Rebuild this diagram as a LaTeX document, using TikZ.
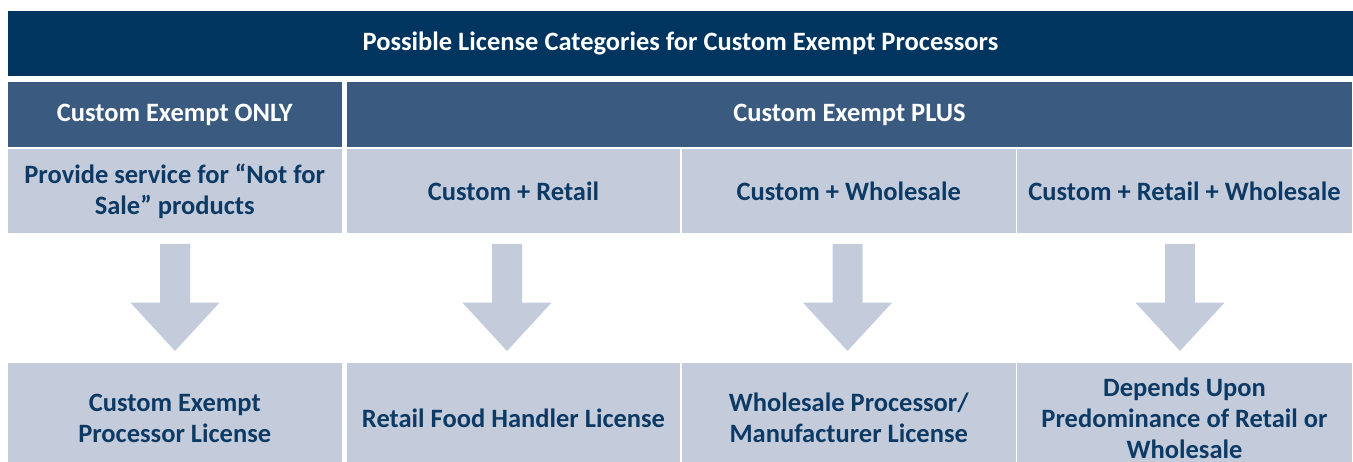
\documentclass[tikz,border=0pt]{standalone}
\usepackage{fontspec}
\setmainfont{Carlito}
\definecolor{titlec}{RGB}{0,53,95}
\definecolor{headc}{RGB}{59,90,128}
\definecolor{lightc}{RGB}{196,204,220}
\definecolor{textc}{RGB}{12,58,100}
\newcommand\blkarrow[3]{%
  \fill[lightc] ([xshift=#3-15pt,yshift=-10.5pt]#1.south) -- ([xshift=#3+15pt,yshift=-10.5pt]#1.south)
    -- ([xshift=#3+15pt,yshift=60.3pt]#2.north) -- ([xshift=#3+44.5pt,yshift=60.3pt]#2.north)
    -- ([xshift=#3,yshift=12pt]#2.north) -- ([xshift=#3-44.5pt,yshift=60.3pt]#2.north)
    -- ([xshift=#3-15pt,yshift=60.3pt]#2.north) -- cycle;}
\begin{document}
\begin{tikzpicture}[x=1pt,y=-1pt,
  base/.style={inner sep=0pt, outer sep=0pt, align=center, font=\bfseries\fontsize{26.5}{31}\selectfont},
  titlebox/.style={base, fill=titlec, text=white},
  headbox/.style={base, fill=headc, text=white},
  lightbox/.style={base, fill=lightc, text=textc}]
\useasboundingbox (0,0) rectangle (1353,462);
\clip (0,0) rectangle (1353,462);
\node[titlebox, minimum width=1345pt, minimum height=65.5pt] (title) at (680.5,43.75) {Possible License Categories for Custom Exempt Processors};
\node[headbox, minimum width=333.5pt, minimum height=65pt] (hOnly) at (174.75,114.5) {Custom Exempt ONLY};
\node[headbox, minimum width=1005pt, minimum height=65pt] (hPlus) at (849.5,114.5) {Custom Exempt PLUS};
\node[lightbox, minimum width=333.5pt, minimum height=84.5pt] (r1) at (174.75,191.25) {Provide service for “Not for\\Sale” products};
\node[lightbox, minimum width=333pt, minimum height=84.5pt] (r2) at (513.5,191.25) {Custom + Retail};
\node[lightbox, minimum width=333.5pt, minimum height=84.5pt] (r3) at (848.75,191.25) {Custom + Wholesale};
\node[lightbox, minimum width=335pt, minimum height=84.5pt] (r4) at (1184.5,191.25) {Custom + Retail + Wholesale};
\node[lightbox, minimum width=333.5pt, minimum height=110pt] (b1) at (174.75,418) {Custom Exempt\\Processor License};
\node[lightbox, minimum width=333pt, minimum height=110pt] (b2) at (513.5,418) {Retail Food Handler License};
\node[lightbox, minimum width=333.5pt, minimum height=110pt] (b3) at (848.75,418) {Wholesale Processor/\\Manufacturer License};
\node[lightbox, minimum width=335pt, minimum height=110pt] (b4) at (1184.5,418) {Depends Upon\\Predominance of Retail or\\Wholesale};
\blkarrow{r1}{b1}{0.25pt}
\blkarrow{r2}{b2}{-6.5pt}
\blkarrow{r3}{b3}{-1.25pt}
\blkarrow{r4}{b4}{-4.5pt}
\end{tikzpicture}
\end{document}
